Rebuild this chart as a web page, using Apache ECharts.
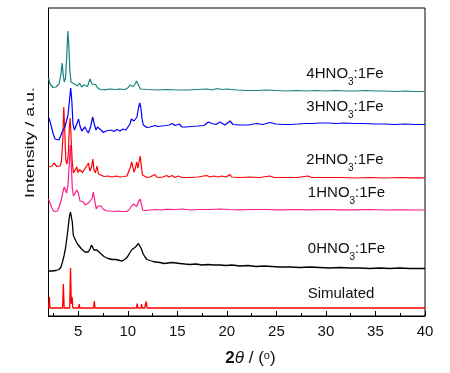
<!DOCTYPE html>
<html>
<head>
<meta charset="utf-8">
<script src="https://cdn.jsdelivr.net/npm/echarts@6/dist/echarts.min.js"></script>
<style>html,body{margin:0;padding:0;background:#fff;}#c{width:450px;height:373px;}</style>
</head>
<body>
<div id="c"></div>
<script>
// x-axis tick labels
const xTicks = [5, 10, 15, 20, 25, 30, 35, 40];
const xMinorTicks = [2.5, 7.5, 12.5, 17.5, 22.5, 27.5, 32.5, 37.5];

// Patterns: [2theta, intensity (stacked, arbitrary units)]
const simulated = [
  [2.0,8],[2.05,12],[2.09,19],[2.14,8],[3.42,8],[3.5,32],[3.58,8],[4.14,8],[4.22,48],[4.3,12],[4.38,19],[4.46,8],
  [5.04,8],[5.1,12],[5.16,8],[5.45,8],[5.5,9.5],[5.55,8],[6.2,8],[6.26,10],[6.32,8],[6.55,8],[6.62,15],[6.7,8],
  [7.34,8],[7.4,9],[7.46,8],[7.65,8],[7.7,9.5],[7.75,8],[10.88,8],[10.95,12.5],[11.02,8],[11.07,8],[11.12,10],[11.17,8],
  [11.34,8],[11.4,12],[11.46,8],[11.7,8],[11.75,10],[11.8,8],[11.82,8],[11.87,14.5],[11.94,8],
  [13.35,8],[13.4,9.5],[13.45,8],[14.45,8],[14.5,9],[14.55,8],[14.95,8],[15.0,9],[15.05,8],[15.95,8],[16.0,9],[16.05,8],
  [19.45,8],[19.5,9],[19.55,8],[20.45,8],[20.5,9],[20.55,8],[21.75,8],[21.8,9.5],[21.85,8],[25.95,8],[26.0,9],[26.05,8],
  [30.15,8],[30.2,9.5],[30.25,8],[40,8]
];
const hno3_0 = [
  [2.0,45],[2.35,45],[2.76,45.5],[3.06,46.5],[3.26,49],[3.41,54],[3.56,60],[3.72,68],[3.87,79],[4.0,90],[4.12,100],
  [4.22,104],[4.3,104],[4.4,94],[4.5,81],[4.62,78],[4.77,75],[4.93,72],[5.13,70],[5.33,67],[5.51,65],[5.68,64],
  [5.83,62],[6.02,64],[6.19,67],[6.34,71],[6.46,70],[6.59,66],[6.74,64],[6.89,66],[7.03,65.5],[7.2,63],[7.4,61],
  [7.6,59.5],[7.8,58],[8.0,57.5],[8.2,56],[8.41,56.5],[8.61,55.5],[8.81,56.5],[9.01,55],[9.21,55.5],[9.42,55],
  [9.62,56],[9.82,57.5],[10.02,60],[10.22,63.5],[10.43,66.5],[10.63,68.5],[10.78,69],[10.93,71],[11.08,72.5],
  [11.23,71.5],[11.38,67],[11.54,62.5],[11.74,59],[11.94,56.5],[12.24,55.5],[12.55,54.5],[12.85,54],[13.25,53.5],
  [13.66,52.5],[14.06,53],[14.46,53.5],[14.87,53],[15.27,52.5],[15.77,52],[16.28,51.5],[16.88,52],[17.49,51],
  [18.1,51.5],[18.7,51],[19.3,51],[19.91,50.5],[20.52,51],[21.33,50],[22.13,50.5],[22.94,49.5],[23.75,50],
  [24.55,49.5],[25.36,49],[26.37,49],[27.38,48.5],[28.39,49],[29.4,48.5],[30.4,48],[31.4,48.5],[32.42,48],
  [33.43,48],[34.44,47.5],[35.45,48],[36.46,47.5],[37.47,48],[38.48,47.5],[40,47.5]
];
const hno3_1 = [
  [2.0,117],[2.15,113],[2.35,108],[2.55,104.5],[2.71,103.5],[2.91,105],[3.11,110],[3.31,117],[3.46,124],[3.59,129],
  [3.72,126],[3.84,123],[3.97,131],[4.09,151],[4.2,171],[4.3,151],[4.4,128],[4.52,120],[4.67,122],[4.85,126],
  [5.01,123],[5.18,115],[5.35,117],[5.53,114],[5.68,111],[5.85,112],[6.04,113],[6.24,115],[6.42,118],[6.52,124],
  [6.64,117],[6.82,107],[6.99,110],[7.15,110.5],[7.3,110],[7.5,107],[7.87,105],[8.2,105],[8.61,104.5],[9.01,105],
  [9.42,104.5],[9.89,104.5],[10.12,106],[10.33,109],[10.56,112],[10.73,111],[10.9,109.5],[11.08,114],[11.23,117],
  [11.38,112],[11.5,106],[11.74,105.5],[12.24,106],[12.75,106.5],[13.25,106],[13.93,106.7],[14.77,106.5],
  [15.57,107],[16.28,106],[17.29,106.5],[18.3,106.5],[19.3,107],[20.32,106.5],[21.33,106.2],[22.3,106.5],
  [23.85,106.5],[25.36,106.2],[26.87,106.5],[28.38,106.2],[29.9,106.5],[31.4,106.2],[32.93,106.2],[34.44,106.5],
  [35.95,106],[37.47,106.2],[38.98,106],[40,106]
];
const hno3_2 = [
  [2.0,149],[2.15,148.5],[2.35,150],[2.55,153],[2.69,153.5],[2.86,149.5],[3.01,147.5],[3.16,150],[3.31,155],
  [3.44,176],[3.54,209],[3.64,186],[3.75,156],[3.87,152],[3.99,161],[4.1,188],[4.19,198],[4.29,176],[4.4,154],
  [4.52,143],[4.67,144],[4.85,149],[4.98,143.5],[5.13,146.5],[5.28,148],[5.43,143.5],[5.58,143.5],[5.78,149],
  [5.92,148.5],[6.04,153],[6.17,145],[6.34,149],[6.47,157],[6.59,146],[6.74,143],[6.89,150],[7.05,142],[7.25,140],
  [7.6,139.5],[8.0,140],[8.41,139],[8.81,140],[9.21,139],[9.62,139.5],[9.92,140],[10.12,142],[10.27,149],[10.4,154],
  [10.53,148],[10.63,144],[10.78,148],[10.9,154],[11.03,148],[11.18,156],[11.26,160],[11.36,151],[11.48,141],
  [11.64,139],[11.94,138.5],[12.24,139],[12.44,139.5],[12.75,141.5],[12.9,139],[13.25,138.5],[13.55,139],
  [13.93,140.5],[14.16,139],[14.49,140.5],[14.77,138.5],[15.1,140],[15.47,138.5],[16.28,138.5],[17.09,139],
  [17.96,140.5],[18.3,139],[18.7,140],[19.1,139],[19.5,140],[19.9,139],[20.32,141.5],[20.5,139],[21.3,138.5],
  [22.3,139],[23.3,138.5],[24.35,140],[24.75,138.5],[25.86,138.5],[27.07,138.5],[28.18,140],[28.59,138.5],
  [29.9,138.5],[31.4,138.5],[32.93,138],[34.44,138.5],[35.95,138],[37.47,138.5],[38.68,138.2],[40,138.2]
];
const hno3_3 = [
  [2.05,198],[2.25,191],[2.45,183],[2.66,177],[2.86,175],[3.06,176],[3.26,181],[3.46,186],[3.66,189],[3.82,191],
  [3.97,201],[4.12,216],[4.24,228],[4.35,216],[4.47,192],[4.62,186],[4.77,188],[4.93,194],[5.03,197],[5.18,190],
  [5.35,185],[5.53,187],[5.68,189],[5.83,186],[6.02,183],[6.24,189],[6.46,199],[6.62,192],[6.79,186],[6.94,189],
  [7.13,189.5],[7.3,186],[7.53,183.5],[7.8,185],[8.0,184],[8.3,186],[8.61,184.5],[8.91,186.5],[9.21,185],
  [9.52,187],[9.82,186],[10.02,189],[10.22,192],[10.37,197],[10.5,198],[10.63,195],[10.76,193],[10.93,199],
  [11.08,208],[11.21,213],[11.33,208],[11.43,198],[11.57,191],[11.74,189],[11.94,188.5],[12.24,189],[12.44,190],
  [12.75,190.5],[13.05,189.5],[13.45,190],[13.86,190.5],[14.16,191],[14.49,192.5],[14.77,190.5],[15.2,192],
  [15.47,189],[15.87,189],[16.38,189.5],[17.09,190],[17.69,190.5],[18.13,194],[18.5,192.5],[18.9,191.5],[19.3,194],
  [19.81,191],[20.32,195],[20.62,191.5],[21.33,191],[22.13,191],[23.0,192.5],[23.65,191.5],[24.35,193.5],[24.96,192],
  [25.66,191.5],[26.37,191.5],[27.18,192],[27.88,192.5],[28.59,192.5],[29.4,193],[30.2,193],[31.0,192.5],[31.9,193],
  [32.9,192.5],[33.9,192.5],[34.95,192],[35.95,192],[36.96,191.5],[38.0,192],[39.0,191.5],[40,191.5]
];
const hno3_4 = [
  [2.0,238],[2.15,232],[2.45,228.5],[2.76,229],[3.06,232],[3.26,242],[3.38,253],[3.49,241],[3.59,234],[3.72,238],
  [3.85,261],[3.95,285],[4.05,271],[4.15,246],[4.27,234],[4.42,232],[4.6,232],[4.77,234],[4.93,230],[5.13,233],
  [5.33,229],[5.58,231],[5.78,233],[5.94,229.5],[6.19,237],[6.39,232],[6.59,231],[6.76,231.5],[6.92,228.5],
  [7.2,226.5],[7.7,226.2],[8.2,227],[8.71,226.5],[9.2,227],[9.72,226.5],[10.07,228.5],[10.22,231],[10.37,229],
  [10.56,229.5],[10.73,232],[10.88,235],[11.0,236],[11.13,230],[11.28,227],[12,226.5],[13,226],[14,226.5],[15,226],
  [16,226],[17,226.5],[18,227],[18.5,226],[19,227.5],[19.5,226.5],[20,227],[21,226],[22,225.5],[23,225.5],[24,226],
  [25,225.5],[26,225],[27,225.5],[28,225],[29,225.5],[30,225],[31,225.5],[32,225],[33,225],[34,225.5],[35,225],
  [36,225],[37,224.5],[38,225],[39,224.5],[40,224.5]
];

const seriesNames = ['Simulated', '0HNO3:1Fe', '1HNO3:1Fe', '2HNO3:1Fe', '3HNO3:1Fe', '4HNO3:1Fe'];

const FONT = 'Liberation Sans, Arial, sans-serif';
const chart = echarts.init(document.getElementById('c'), null, {renderer: 'canvas'});

function line(name, data, color, width) {
  return {
    name: name, type: 'line', data: data, showSymbol: false, symbol: 'none',
    lineStyle: {color: color, width: width}, itemStyle: {color: color},
    animation: false, z: 3
  };
}

function labelRich(name) {
  const m = name.match(/^(\dHNO)(\d)(:1Fe)$/);
  if (!m) return '{n|' + name + '}';
  return '{n|' + m[1] + '}{s|' + m[2] + '}{n|' + m[3] + '}';
}
const rich = {
  n: {fontSize: 15, fontFamily: FONT, fill: '#111', color: '#111', lineHeight: 18, verticalAlign: 'top'},
  s: {fontSize: 10, fontFamily: FONT, fill: '#111', color: '#111', lineHeight: 10, verticalAlign: 'top', padding: [11, 0, 0, 0]}
};
// label anchor positions (layout only)
const labelPos = [[341, 295], [346.5, 250.5], [346.5, 194], [345, 161.5], [345, 108], [345, 75]];

const graphics = seriesNames.map((nm, i) => ({
  type: 'text', z: 10,
  style: {
    text: labelRich(nm), rich: rich, x: labelPos[i][0], y: labelPos[i][1] - 9,
    align: 'center', verticalAlign: 'top', fontSize: 15, fontFamily: FONT, fill: '#111'
  }
}));
graphics.push({
  type: 'text', z: 10, x: 30.5, y: 142.5, rotation: Math.PI / 2, scaleX: 1.37,
  style: {text: 'Intensity / a.u.', fontSize: 13, fontFamily: FONT, fill: '#111', align: 'center', verticalAlign: 'middle'}
});
graphics.push({
  type: 'text', z: 10,
  style: {
    text: '{b|2}{i|θ}{n| / (}{p|o}{n|)}', x: 250.5, y: 350, align: 'center', verticalAlign: 'top',
    rich: {
      b: {fontSize: 17, fontWeight: 'bold', fontFamily: FONT, fill: '#111', lineHeight: 20, verticalAlign: 'top'},
      i: {fontSize: 17, fontStyle: 'italic', fontFamily: FONT, fill: '#111', lineHeight: 20, verticalAlign: 'top'},
      n: {fontSize: 17, fontFamily: FONT, fill: '#111', lineHeight: 20, verticalAlign: 'top'},
      p: {fontSize: 11, fontFamily: FONT, fill: '#111', lineHeight: 7, verticalAlign: 'top'}
    }
  }
});

chart.setOption({
  animation: false,
  backgroundColor: '#fff',
  grid: {left: 48.5, right: 25, top: 8, bottom: 57, show: true, borderColor: '#000', borderWidth: 1, backgroundColor: 'transparent'},
  xAxis: [{
    type: 'value', min: 2, max: 40, gridIndex: 0,
    axisLine: {show: true, lineStyle: {color: '#000', width: 1}},
    axisTick: {show: true, inside: true, length: 5, customValues: xTicks, lineStyle: {color: '#000'}},
    axisLabel: {show: true, customValues: xTicks, fontSize: 15, fontFamily: FONT, color: '#111', margin: 8},
    splitLine: {show: false}
  }, {
    type: 'value', min: 2, max: 40, gridIndex: 0, position: 'bottom',
    axisLine: {show: false},
    axisTick: {show: true, inside: true, length: 3, customValues: xMinorTicks, lineStyle: {color: '#000'}},
    axisLabel: {show: false},
    splitLine: {show: false}
  }],
  yAxis: {
    type: 'value', min: 0, max: 308,
    axisLine: {show: true, lineStyle: {color: '#000'}},
    axisTick: {show: false}, axisLabel: {show: false}, splitLine: {show: false}
  },
  series: [
    line(seriesNames[0], simulated, '#ff0000', 1.3),
    line(seriesNames[1], hno3_0, '#000000', 1.3),
    line(seriesNames[2], hno3_1, '#ff1a8c', 1.2),
    line(seriesNames[3], hno3_2, '#ff0000', 1.2),
    line(seriesNames[4], hno3_3, '#0000ff', 1.2),
    line(seriesNames[5], hno3_4, '#1a8080', 1.2)
  ],
  graphic: graphics
});
</script>
</body>
</html>
